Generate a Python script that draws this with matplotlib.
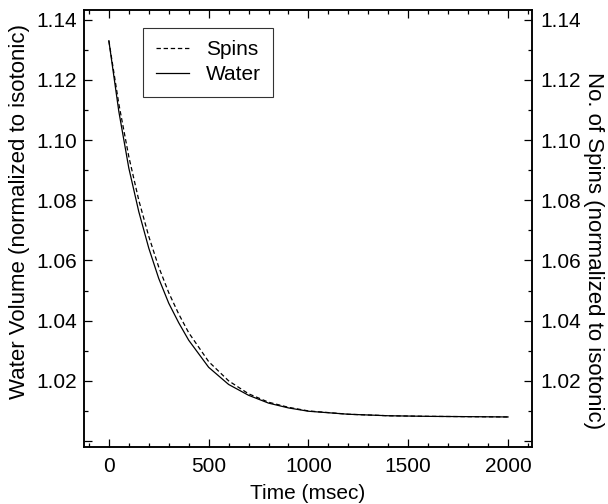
import numpy as np
import matplotlib.pyplot as plt
from matplotlib.ticker import MultipleLocator, FixedLocator, FuncFormatter

plt.rcParams['font.family'] = ['Liberation Sans', 'DejaVu Sans']

# time points (msec)
t = [0, 50, 100, 150, 200, 250, 300, 350, 400, 500, 600, 700, 800, 900,
     1000, 1200, 1400, 1600, 1800, 2000]
# water volume, normalized to isotonic
water = [1.133, 1.1095, 1.0907, 1.0762, 1.0641, 1.0540, 1.0458, 1.0393,
         1.0335, 1.0245, 1.0188, 1.0152, 1.0126, 1.0110, 1.0099, 1.0089,
         1.0084, 1.0082, 1.0081, 1.0080]
# number of spins, normalized to isotonic
spins = [1.133, 1.1120, 1.0945, 1.0800, 1.0680, 1.0578, 1.0493, 1.0422,
         1.0360, 1.0264, 1.0200, 1.0157, 1.0129, 1.0112, 1.0100, 1.0089,
         1.0084, 1.0082, 1.0081, 1.0080]

fig = plt.figure(figsize=(6.08, 5.04), dpi=100)
ax = fig.add_axes([0.138, 0.113, 0.737, 0.867])

ax.plot(t, spins, color='black', lw=0.9, ls=(0, (3.5, 2.2)), label='Spins')
ax.plot(t, water, color='black', lw=0.9, label='Water')

ax.set_xlim(-125, 2120)
ax.set_ylim(0.998, 1.1432)

ax.xaxis.set_major_locator(FixedLocator([0, 500, 1000, 1500, 2000]))
ax.xaxis.set_minor_locator(MultipleLocator(100))
yt = [1.00, 1.02, 1.04, 1.06, 1.08, 1.10, 1.12, 1.14]
ax.yaxis.set_major_locator(FixedLocator(yt))
ax.yaxis.set_minor_locator(MultipleLocator(0.01))
fmt = FuncFormatter(lambda v, p: '' if v < 1.01 else f'{v:.2f}')
ax.yaxis.set_major_formatter(fmt)

ax.tick_params(which='both', direction='in', top=True, right=False,
               labelsize=15, width=0.9, color='black')
ax.tick_params(which='major', length=6)
ax.tick_params(which='minor', length=3)
ax.tick_params(axis='x', pad=7)
ax.tick_params(axis='y', pad=5)

for s in ax.spines.values():
    s.set_linewidth(1.1)

ax.set_xlabel('Time (msec)', fontsize=15, va='center')
ax.xaxis.set_label_coords(0.5, -0.107)
ax.set_ylabel('Water Volume (normalized to isotonic)', fontsize=16, va='center')
ax.yaxis.set_label_coords(-0.143, 0.54)

ax2 = ax.twinx()
ax2.set_ylim(ax.get_ylim())
ax2.yaxis.set_major_locator(FixedLocator(yt))
ax2.yaxis.set_minor_locator(MultipleLocator(0.01))
ax2.yaxis.set_major_formatter(fmt)
ax2.tick_params(which='both', direction='in', labelsize=15, width=0.9, pad=6)
ax2.tick_params(which='major', length=6)
ax2.tick_params(which='minor', length=3)
ax2.set_ylabel('No. of Spins (normalized to isotonic)', fontsize=16,
               rotation=-90, va='center')
ax2.yaxis.set_label_coords(1.137, 0.45)
for s in ax2.spines.values():
    s.set_linewidth(1.1)

leg = ax.legend(loc='upper left', bbox_to_anchor=(0.132, 0.96), fontsize=15,
                frameon=True, fancybox=False, handlelength=1.6,
                handletextpad=0.8, borderpad=0.6, labelspacing=0.3,
                borderaxespad=0)
leg.get_frame().set_edgecolor('black')
leg.get_frame().set_linewidth(0.8)

fig.savefig('out.png', dpi=100)
